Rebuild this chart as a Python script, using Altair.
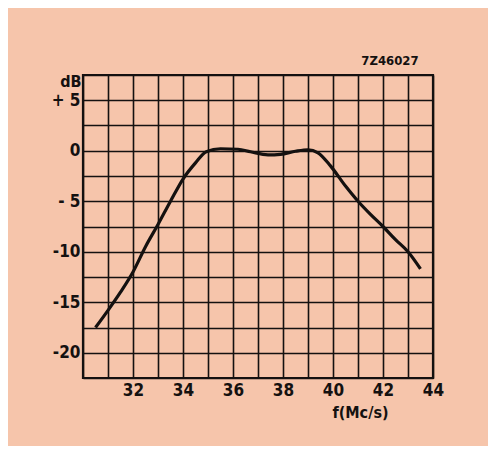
import altair as alt
import pandas as pd

# Curve values (frequency in Mc/s, gain in dB)
freq = [30.5, 31.0, 31.5, 32.0, 32.5, 33.0, 33.5, 34.0, 34.5, 34.93, 35.5, 36.2, 36.7,
        37.4, 37.9, 38.5, 39.0, 39.4, 39.9, 40.5, 41.0, 41.5, 42.0, 42.5, 43.0, 43.5]
gain = [-17.5, -15.8, -14.0, -12.0, -9.5, -7.3, -5.0, -2.8, -1.2, -0.1, 0.2, 0.15, -0.1,
        -0.4, -0.35, -0.05, 0.1, -0.2, -1.5, -3.5, -5.0, -6.3, -7.5, -8.8, -10.0, -11.7]

x_grid = [30, 31, 32, 33, 34, 35, 36, 37, 38, 39, 40, 41, 42, 43, 44]
x_labels = [32, 34, 36, 38, 40, 42, 44]
y_grid = [-22.5, -20, -17.5, -15, -12.5, -10, -7.5, -5, -2.5, 0, 2.5, 5, 7.5]
y_labels = {5: "+ 5", 0: "0", -5: "- 5", -10: "-10", -15: "-15", -20: "-20"}

df = pd.DataFrame({"f": freq, "g": gain})

FONT = "DejaVu Sans Condensed, sans-serif"
BG = "#F6C5AB"
INK = "#141110"

x_label_expr = "indexof([" + ",".join(str(v) for v in x_labels) + "], datum.value) >= 0 ? datum.value + '' : ''"
y_label_expr = "".join(
    f"datum.value == {k} ? '{v}' : " for k, v in y_labels.items()
) + "''"

chart = alt.Chart(df).mark_line(
    color=INK, strokeWidth=3.2, interpolate="monotone"
).encode(
    x=alt.X("f:Q",
            scale=alt.Scale(domain=[30, 44], nice=False, zero=False),
            axis=alt.Axis(values=x_grid, labelExpr=x_label_expr, grid=True,
                          gridColor=INK, gridWidth=1.6, gridOpacity=1,
                          domain=False, ticks=False, labelPadding=4,
                          labelFont=FONT, labelFontSize=17, labelFontWeight="bold",
                          labelColor=INK, labelFlush=False,
                          title="f(Mc/s)", titleFont=FONT, titleFontSize=16,
                          titleFontWeight="bold", titleColor=INK,
                          titleX=277, titleY=34, titleBaseline="middle",
                          titleAnchor="start", titleAlign="center")),
    y=alt.Y("g:Q",
            scale=alt.Scale(domain=[-22.5, 7.5], nice=False, zero=False),
            axis=alt.Axis(values=y_grid, labelExpr=y_label_expr, grid=True,
                          gridColor=INK, gridWidth=1.6, gridOpacity=1,
                          domain=False, ticks=False, labelPadding=3,
                          labelFont=FONT, labelFontSize=17, labelFontWeight="bold",
                          labelColor=INK, labelFlush=False,
                          title="dB", titleFont=FONT, titleFontSize=16,
                          titleFontWeight="bold", titleColor=INK,
                          titleAngle=0, titleAlign="right", titleBaseline="middle",
                          titleX=-2, titleY=6)),
).properties(
    width=350,
    height=303,
    background=BG,
    padding={"left": 75, "top": 67, "right": 55, "bottom": 68},
    autosize=alt.AutoSizeParams(type="none"),
    title=alt.TitleParams("7Z46027", anchor="end", font=FONT, fontSize=13,
                          fontWeight="bold", color=INK, dx=-25, offset=5),
).configure_view(
    stroke=INK, strokeWidth=2.2, fill=BG
)

chart.save("out.html", embed_options={"renderer": "svg", "actions": False})
